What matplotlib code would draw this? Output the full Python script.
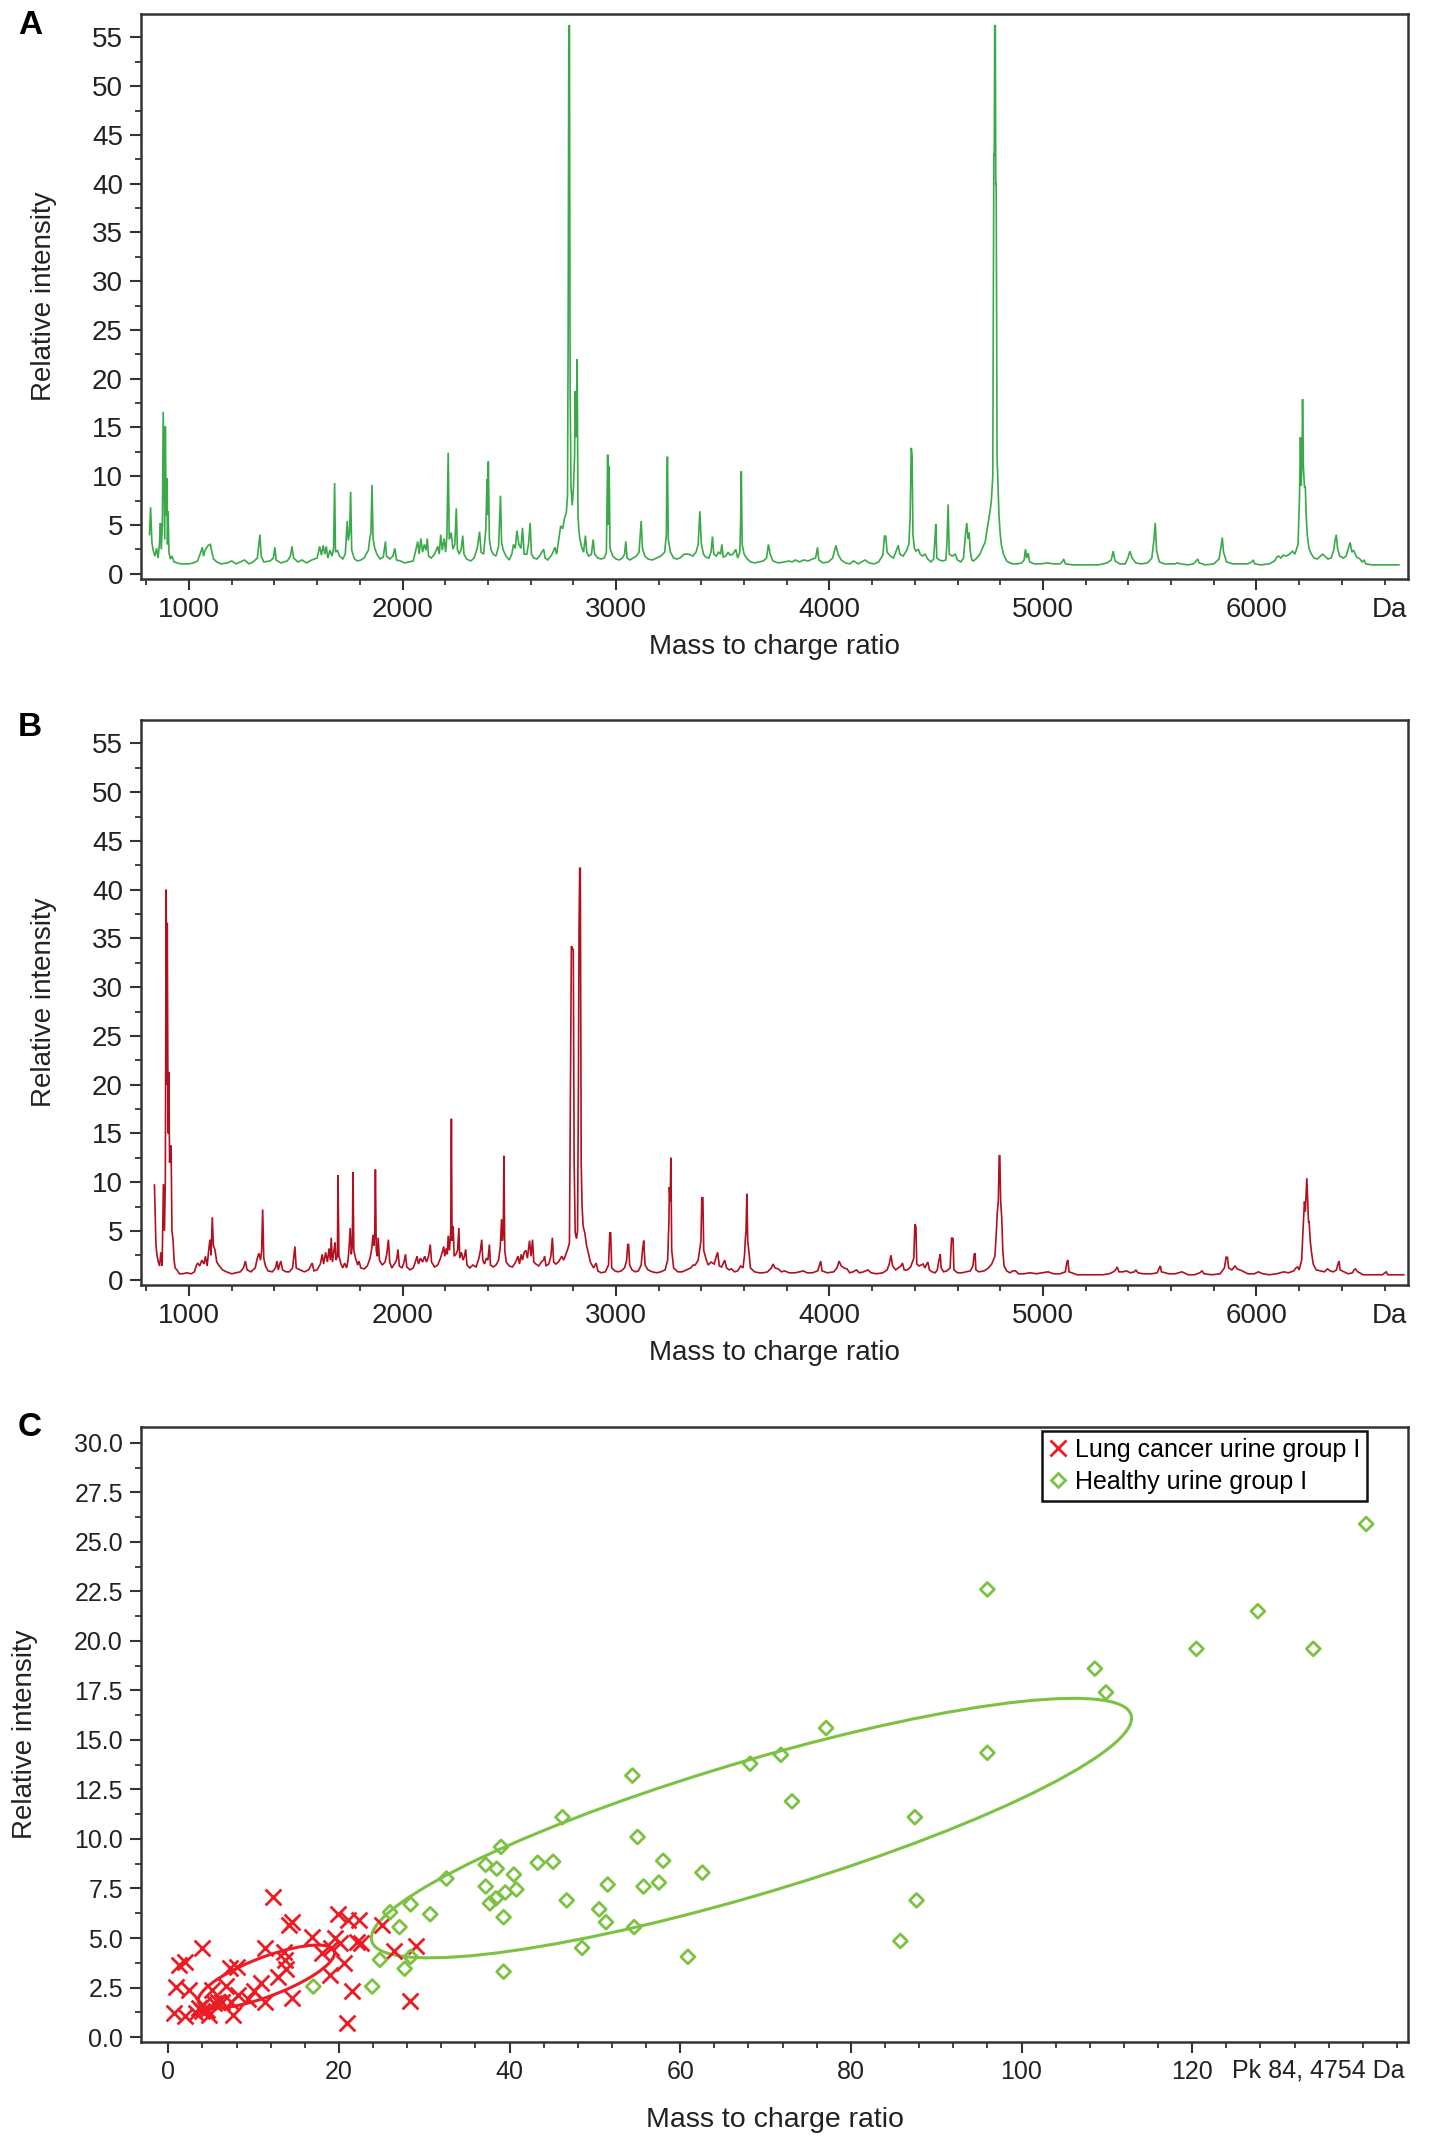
import numpy as np
import matplotlib
matplotlib.use("Agg")
import matplotlib.pyplot as plt
from matplotlib.ticker import MultipleLocator, FixedLocator, FormatStrFormatter
from matplotlib.transforms import Affine2D
from matplotlib.patches import Circle
from matplotlib.lines import Line2D

plt.rcParams['font.family'] = ['Liberation Sans', 'DejaVu Sans']

### 데이터 : 스펙트럼 (m/z, 상대 강도) ###

# A : 건강 소변 (green)
spec_a = [
    (815, 4.0), (820, 6.8), (826, 3.2), (832, 2.4), (840, 1.8), (848, 2.6), (855, 1.6), (862, 3.2),
    (866, 5.2), (870, 2.5), (875, 5.0), (879, 16.6), (883, 9.0), (886, 3.5), (889, 15.1), (893, 6.0),
    (896, 9.8), (899, 3.0), (902, 6.4), (906, 2.2), (912, 1.5), (920, 1.8), (930, 1.2), (945, 1.1),
    (960, 1.0), (980, 1.0), (1000, 1.0), (1020, 1.1), (1040, 1.3), (1055, 2.2), (1062, 2.7), (1068, 1.8),
    (1075, 2.4), (1090, 2.9), (1100, 3.0), (1107, 2.2), (1115, 1.5), (1130, 1.2), (1150, 1.0), (1180, 1.1),
    (1200, 1.3), (1220, 1.0), (1240, 1.2), (1260, 1.4), (1280, 1.0), (1300, 1.2), (1320, 1.6), (1332, 4.0),
    (1338, 1.8), (1350, 1.2), (1380, 1.3), (1395, 1.6), (1402, 2.7), (1408, 1.4), (1430, 1.1), (1460, 1.3),
    (1475, 1.8), (1482, 2.8), (1490, 1.6), (1510, 1.2), (1530, 1.4), (1550, 1.1), (1575, 1.4), (1600, 1.6),
    (1612, 2.8), (1620, 1.9), (1628, 2.9), (1636, 2.0), (1643, 2.8), (1650, 1.6), (1660, 2.4), (1670, 1.8),
    (1677, 2.6), (1682, 9.3), (1686, 2.2), (1695, 2.4), (1705, 1.8), (1720, 1.5), (1732, 2.0), (1741, 5.4),
    (1746, 3.4), (1752, 4.2), (1757, 8.4), (1762, 2.4), (1775, 1.5), (1790, 1.3), (1805, 1.4), (1820, 1.6),
    (1840, 2.4), (1848, 3.8), (1852, 4.1), (1857, 9.1), (1862, 3.6), (1870, 2.6), (1880, 2.0), (1895, 1.5),
    (1910, 1.7), (1920, 3.3), (1925, 1.8), (1940, 1.5), (1955, 1.8), (1964, 2.6), (1972, 1.4), (1990, 1.3),
    (2010, 1.1), (2030, 1.2), (2050, 1.3), (2060, 2.2), (2071, 3.3), (2078, 2.0), (2086, 3.6), (2094, 2.2),
    (2102, 3.0), (2110, 2.4), (2116, 3.6), (2122, 1.8), (2135, 1.6), (2150, 2.0), (2165, 2.8), (2172, 2.0),
    (2179, 4.0), (2186, 2.4), (2195, 3.6), (2202, 2.2), (2208, 3.9), (2214, 12.4), (2219, 3.5), (2228, 4.2),
    (2236, 2.5), (2245, 3.0), (2252, 6.7), (2257, 2.5), (2265, 2.0), (2275, 2.5), (2282, 3.9), (2288, 2.0),
    (2300, 1.5), (2320, 1.3), (2335, 1.6), (2350, 2.6), (2361, 4.3), (2368, 2.2), (2380, 2.0), (2390, 4.5),
    (2396, 9.7), (2399, 6.0), (2402, 11.5), (2407, 3.5), (2415, 2.4), (2425, 2.0), (2438, 1.8), (2450, 2.8),
    (2459, 8.0), (2464, 3.2), (2472, 2.4), (2485, 1.8), (2500, 1.4), (2512, 2.0), (2520, 3.0), (2528, 2.6),
    (2536, 4.4), (2545, 3.0), (2555, 2.6), (2562, 4.7), (2570, 2.0), (2582, 2.0), (2590, 3.0), (2598, 5.2),
    (2604, 2.0), (2615, 1.6), (2630, 1.5), (2645, 1.9), (2655, 2.3), (2661, 2.5), (2668, 1.6), (2680, 1.4),
    (2695, 1.8), (2705, 2.2), (2714, 2.7), (2722, 2.0), (2730, 3.2), (2741, 4.9), (2750, 4.6), (2759, 5.7),
    (2767, 6.2), (2773, 8.0), (2776, 25.0), (2779, 56.2), (2782, 56.2), (2785, 20.0), (2789, 9.0), (2795, 7.0),
    (2800, 8.5), (2806, 12.0), (2809, 18.7), (2813, 14.0), (2818, 22.0), (2822, 6.0), (2826, 4.5), (2830, 3.7),
    (2838, 2.8), (2848, 2.2), (2857, 3.9), (2863, 2.2), (2872, 1.8), (2885, 2.0), (2893, 3.5), (2900, 2.0),
    (2915, 1.6), (2930, 1.5), (2945, 1.6), (2955, 2.2), (2961, 12.2), (2964, 5.0), (2968, 11.0), (2972, 2.6),
    (2985, 1.8), (3000, 1.5), (3015, 1.4), (3030, 1.6), (3040, 2.0), (3046, 3.3), (3052, 1.6), (3065, 1.4),
    (3080, 1.6), (3095, 1.8), (3108, 2.2), (3118, 5.4), (3124, 2.6), (3135, 1.8), (3150, 1.5), (3170, 1.4),
    (3190, 1.6), (3210, 1.8), (3228, 2.2), (3236, 4.0), (3238, 9.5), (3241, 12.0), (3245, 3.5), (3255, 2.2),
    (3270, 1.6), (3285, 1.5), (3300, 1.6), (3320, 2.0), (3340, 2.0), (3360, 1.8), (3375, 2.2), (3385, 3.0),
    (3393, 6.4), (3400, 3.0), (3410, 2.0), (3420, 1.7), (3435, 1.6), (3445, 2.2), (3452, 3.8), (3458, 2.0),
    (3470, 1.8), (3480, 2.2), (3490, 2.0), (3496, 3.0), (3502, 1.7), (3515, 1.8), (3525, 2.2), (3535, 1.9),
    (3548, 2.0), (3561, 2.5), (3570, 1.6), (3580, 2.2), (3584, 5.4), (3587, 10.5), (3591, 3.0), (3600, 2.0),
    (3615, 1.5), (3630, 1.2), (3650, 1.1), (3670, 1.2), (3690, 1.3), (3705, 1.6), (3714, 3.0), (3722, 2.0),
    (3735, 1.3), (3760, 1.1), (3790, 1.2), (3810, 1.3), (3825, 1.2), (3840, 1.4), (3860, 1.2), (3880, 1.4),
    (3900, 1.3), (3920, 1.5), (3935, 1.6), (3944, 2.7), (3950, 1.4), (3970, 1.1), (3995, 1.2), (4015, 1.6),
    (4030, 2.9), (4040, 2.0), (4055, 1.4), (4075, 1.1), (4095, 1.0), (4113, 1.3), (4135, 1.0), (4150, 1.2),
    (4167, 1.4), (4185, 1.1), (4210, 1.0), (4230, 1.2), (4250, 1.9), (4258, 3.9), (4264, 3.8), (4270, 2.2),
    (4285, 1.8), (4300, 1.6), (4310, 2.2), (4322, 2.9), (4330, 2.0), (4345, 1.8), (4362, 2.4), (4372, 3.0),
    (4378, 6.0), (4383, 12.9), (4387, 12.2), (4391, 4.0), (4398, 2.6), (4405, 2.3), (4416, 2.5), (4425, 2.0),
    (4435, 1.8), (4448, 2.0), (4460, 1.5), (4475, 1.2), (4488, 1.5), (4494, 3.5), (4498, 5.1), (4503, 1.6),
    (4515, 1.4), (4530, 1.3), (4545, 1.4), (4550, 3.0), (4556, 7.1), (4561, 2.0), (4575, 1.8), (4589, 2.0),
    (4600, 1.4), (4615, 1.2), (4628, 1.6), (4636, 3.8), (4643, 5.2), (4649, 3.6), (4654, 4.2), (4660, 2.2),
    (4667, 1.4), (4675, 1.3), (4690, 1.6), (4705, 2.0), (4720, 2.8), (4729, 3.2), (4738, 4.5), (4752, 6.4),
    (4758, 7.4), (4765, 10.0), (4770, 43.0), (4772, 43.0), (4774, 56.2), (4777, 56.2), (4779, 40.0), (4781, 40.0),
    (4785, 12.0), (4794, 6.0), (4800, 4.0), (4805, 3.0), (4815, 2.0), (4830, 1.3), (4844, 1.1), (4860, 1.0),
    (4880, 1.0), (4900, 1.1), (4912, 1.4), (4918, 2.5), (4924, 1.6), (4931, 2.1), (4938, 1.2), (4960, 1.0),
    (4990, 1.0), (5020, 1.1), (5050, 1.0), (5080, 1.0), (5090, 1.2), (5097, 1.5), (5105, 1.0), (5140, 0.9),
    (5180, 0.9), (5220, 0.9), (5260, 0.9), (5281, 1.0), (5300, 1.1), (5320, 1.4), (5329, 2.3), (5338, 1.3),
    (5360, 1.0), (5385, 1.0), (5398, 1.6), (5407, 2.3), (5418, 1.6), (5435, 1.1), (5460, 1.0), (5490, 1.1),
    (5510, 1.6), (5520, 3.5), (5526, 5.2), (5532, 2.4), (5545, 1.2), (5570, 1.0), (5600, 1.0), (5620, 1.0),
    (5628, 1.1), (5645, 1.0), (5680, 0.9), (5705, 1.0), (5718, 1.3), (5725, 1.5), (5732, 1.1), (5760, 0.9),
    (5800, 1.0), (5825, 1.5), (5833, 2.6), (5840, 3.7), (5846, 2.2), (5860, 1.2), (5890, 1.0), (5930, 1.0),
    (5960, 1.0), (5978, 1.2), (5985, 1.4), (5992, 1.0), (6020, 0.9), (6060, 1.0), (6085, 1.3), (6096, 1.7),
    (6104, 1.8), (6115, 1.6), (6126, 1.9), (6140, 1.8), (6155, 2.0), (6169, 2.3), (6180, 2.0), (6195, 3.0),
    (6202, 8.0), (6206, 14.0), (6210, 9.0), (6214, 12.0), (6216, 17.9), (6220, 11.0), (6225, 8.9), (6229, 8.9),
    (6233, 6.0), (6238, 4.0), (6246, 2.6), (6255, 2.1), (6270, 1.6), (6285, 1.5), (6300, 1.8), (6310, 2.0),
    (6320, 1.8), (6335, 1.5), (6350, 1.6), (6362, 2.4), (6368, 3.4), (6374, 4.0), (6380, 2.6), (6390, 1.8),
    (6400, 1.7), (6407, 1.6), (6420, 1.8), (6432, 2.7), (6439, 3.2), (6447, 2.2), (6455, 2.4), (6461, 2.1),
    (6470, 1.7), (6485, 1.5), (6495, 1.2), (6504, 1.4), (6512, 1.0), (6540, 0.9), (6580, 0.9), (6620, 0.9),
    (6667, 0.9),
]

# B : 폐암 소변 (dark red)
spec_b = [
    (838, 9.7), (842, 6.0), (845, 3.6), (850, 2.5), (856, 1.8), (862, 1.4), (868, 2.8), (874, 1.4),
    (880, 9.8), (885, 5.0), (889, 10.3), (891, 25.0), (893, 40.0), (896, 20.0), (898, 36.6), (902, 15.0),
    (905, 21.3), (909, 12.0), (912, 13.7), (916, 13.7), (920, 5.0), (925, 4.1), (930, 2.0), (935, 1.2),
    (943, 1.0), (955, 0.6), (970, 0.6), (990, 0.7), (1010, 0.6), (1025, 0.8), (1035, 1.5), (1041, 1.7),
    (1050, 1.4), (1060, 2.0), (1070, 1.6), (1077, 2.4), (1085, 1.4), (1092, 3.0), (1098, 4.1), (1103, 2.5),
    (1109, 6.4), (1114, 3.5), (1121, 3.1), (1130, 1.8), (1142, 1.4), (1157, 1.0), (1175, 0.8), (1200, 0.6),
    (1220, 0.7), (1240, 0.8), (1255, 1.2), (1264, 1.9), (1272, 1.0), (1290, 0.8), (1310, 1.2), (1320, 2.2),
    (1327, 2.7), (1335, 2.0), (1340, 3.0), (1345, 7.2), (1350, 2.2), (1358, 1.4), (1370, 0.9), (1390, 0.8),
    (1405, 1.2), (1412, 1.9), (1418, 1.0), (1425, 1.6), (1430, 1.9), (1438, 1.0), (1455, 0.8), (1470, 0.8),
    (1485, 1.2), (1496, 3.4), (1502, 1.2), (1520, 1.0), (1540, 0.8), (1560, 1.0), (1577, 1.7), (1585, 0.9),
    (1600, 1.0), (1615, 1.6), (1624, 2.6), (1630, 1.6), (1640, 2.8), (1648, 1.8), (1656, 3.2), (1662, 2.0),
    (1666, 4.3), (1672, 1.8), (1680, 3.2), (1684, 3.8), (1688, 2.0), (1695, 2.4), (1698, 10.7), (1702, 2.4),
    (1712, 1.6), (1720, 1.2), (1729, 1.7), (1738, 1.2), (1745, 2.0), (1750, 3.4), (1755, 5.3), (1760, 2.6),
    (1765, 3.5), (1768, 11.0), (1772, 3.0), (1780, 2.2), (1790, 1.5), (1796, 1.9), (1805, 1.2), (1820, 1.1),
    (1835, 1.4), (1848, 2.2), (1856, 3.2), (1862, 4.6), (1866, 3.5), (1870, 4.8), (1873, 11.3), (1877, 3.0),
    (1882, 2.4), (1886, 4.3), (1892, 2.0), (1905, 1.5), (1918, 1.8), (1926, 2.6), (1934, 4.1), (1940, 1.8),
    (1950, 1.2), (1962, 1.6), (1972, 2.0), (1979, 3.1), (1985, 1.4), (1998, 1.2), (2007, 1.8), (2014, 2.6),
    (2020, 1.3), (2035, 1.0), (2050, 1.2), (2060, 1.8), (2068, 2.4), (2075, 1.6), (2084, 2.2), (2094, 1.8),
    (2104, 2.4), (2112, 1.8), (2122, 2.4), (2130, 3.6), (2136, 1.8), (2150, 1.3), (2165, 1.5), (2178, 2.2),
    (2186, 2.8), (2193, 3.4), (2198, 2.4), (2205, 3.2), (2210, 2.6), (2214, 4.5), (2220, 3.0), (2226, 5.0),
    (2229, 16.5), (2232, 4.0), (2237, 5.5), (2242, 2.4), (2250, 2.6), (2258, 3.0), (2264, 5.3), (2268, 2.2),
    (2276, 2.8), (2284, 2.0), (2290, 2.4), (2296, 3.1), (2302, 1.5), (2315, 1.2), (2330, 1.5), (2345, 1.3),
    (2358, 2.2), (2365, 3.0), (2371, 4.1), (2376, 2.0), (2384, 1.6), (2393, 2.2), (2400, 2.0), (2407, 3.6),
    (2412, 1.5), (2425, 1.3), (2438, 1.5), (2450, 2.0), (2458, 3.4), (2464, 6.2), (2468, 4.0), (2472, 5.0),
    (2475, 12.7), (2479, 3.0), (2486, 1.8), (2500, 1.4), (2515, 1.3), (2530, 1.8), (2541, 2.4), (2548, 1.6),
    (2556, 2.6), (2562, 2.0), (2570, 2.8), (2578, 3.0), (2585, 2.2), (2595, 4.0), (2602, 2.4), (2609, 4.1),
    (2615, 1.8), (2625, 1.6), (2638, 1.4), (2650, 1.8), (2660, 2.0), (2666, 2.4), (2672, 1.4), (2685, 1.6),
    (2695, 2.4), (2702, 4.3), (2708, 1.8), (2718, 1.6), (2730, 1.8), (2746, 2.4), (2755, 2.0), (2765, 2.6),
    (2775, 3.2), (2782, 3.8), (2787, 20.0), (2791, 34.2), (2796, 34.0), (2800, 33.8), (2804, 12.0), (2809, 4.8),
    (2815, 4.2), (2820, 5.0), (2824, 20.0), (2827, 36.3), (2830, 42.2), (2833, 42.2), (2837, 12.0), (2841, 7.6),
    (2846, 5.5), (2854, 4.8), (2862, 3.5), (2871, 2.7), (2880, 1.8), (2895, 1.2), (2907, 1.7), (2915, 0.9),
    (2930, 0.7), (2950, 0.8), (2965, 1.5), (2971, 4.8), (2975, 4.8), (2980, 1.2), (2995, 0.9), (3010, 0.8),
    (3025, 0.9), (3040, 1.2), (3050, 2.0), (3055, 3.6), (3059, 3.6), (3064, 1.5), (3075, 1.0), (3090, 0.8),
    (3105, 0.9), (3118, 1.5), (3125, 3.2), (3130, 4.0), (3136, 1.5), (3150, 1.0), (3170, 0.8), (3190, 0.7),
    (3210, 0.8), (3230, 1.0), (3242, 2.0), (3248, 6.0), (3250, 9.5), (3254, 8.0), (3257, 12.5), (3261, 3.0),
    (3270, 1.2), (3290, 0.8), (3310, 0.8), (3330, 1.0), (3350, 1.2), (3362, 1.5), (3371, 1.5), (3385, 2.0),
    (3398, 4.0), (3402, 8.4), (3407, 8.4), (3411, 3.0), (3418, 2.4), (3422, 2.1), (3432, 1.5), (3445, 1.8),
    (3460, 1.6), (3470, 2.4), (3476, 2.8), (3484, 1.4), (3495, 1.3), (3509, 2.0), (3518, 1.2), (3530, 1.0),
    (3541, 1.1), (3555, 0.8), (3570, 0.9), (3584, 1.4), (3595, 1.2), (3602, 2.5), (3606, 4.2), (3609, 5.0),
    (3613, 8.8), (3617, 4.0), (3621, 3.2), (3630, 1.2), (3649, 0.8), (3670, 0.7), (3690, 0.7), (3710, 0.8),
    (3728, 1.2), (3736, 1.6), (3745, 1.2), (3760, 1.1), (3775, 0.8), (3790, 0.9), (3810, 0.7), (3840, 0.7),
    (3860, 0.8), (3877, 0.9), (3895, 0.7), (3920, 0.7), (3945, 0.9), (3953, 1.5), (3959, 1.9), (3965, 0.9),
    (3990, 0.7), (4020, 0.8), (4035, 1.2), (4045, 1.9), (4055, 1.4), (4068, 1.2), (4082, 1.1), (4095, 0.7),
    (4110, 0.8), (4126, 1.0), (4140, 0.7), (4160, 0.8), (4180, 1.0), (4195, 0.7), (4220, 0.6), (4250, 0.7),
    (4270, 1.0), (4280, 1.6), (4288, 2.5), (4296, 1.4), (4310, 1.0), (4322, 1.2), (4335, 1.4), (4342, 1.7),
    (4350, 1.0), (4365, 1.0), (4380, 1.3), (4395, 2.2), (4400, 5.7), (4405, 5.4), (4409, 1.6), (4420, 1.4),
    (4430, 1.5), (4439, 1.6), (4447, 1.2), (4453, 1.5), (4461, 1.8), (4468, 1.0), (4480, 0.8), (4495, 0.7),
    (4505, 1.0), (4513, 2.0), (4519, 2.6), (4523, 1.2), (4535, 0.8), (4550, 0.9), (4565, 1.2), (4572, 4.3),
    (4579, 4.2), (4583, 1.0), (4600, 0.7), (4620, 0.7), (4640, 0.8), (4660, 0.9), (4672, 1.4), (4678, 2.6),
    (4682, 2.7), (4686, 1.0), (4700, 0.8), (4725, 0.9), (4745, 1.2), (4760, 1.6), (4775, 2.4), (4782, 5.0),
    (4786, 6.9), (4791, 8.0), (4795, 12.7), (4798, 12.7), (4802, 8.0), (4807, 6.3), (4812, 3.0), (4818, 1.4),
    (4830, 0.9), (4845, 0.7), (4860, 0.9), (4872, 0.9), (4885, 0.6), (4910, 0.6), (4940, 0.7), (4970, 0.6),
    (4995, 0.7), (5024, 0.8), (5050, 0.6), (5080, 0.6), (5105, 0.8), (5112, 1.8), (5117, 2.0), (5122, 0.8),
    (5160, 0.5), (5200, 0.5), (5240, 0.5), (5280, 0.5), (5310, 0.6), (5330, 0.8), (5340, 1.0), (5348, 1.3),
    (5356, 0.8), (5375, 0.8), (5390, 0.9), (5410, 0.7), (5428, 0.8), (5435, 1.0), (5445, 0.7), (5470, 0.6),
    (5510, 0.6), (5535, 0.7), (5545, 1.2), (5550, 1.4), (5555, 0.8), (5590, 0.6), (5620, 0.6), (5651, 0.8),
    (5680, 0.5), (5710, 0.5), (5735, 0.7), (5745, 0.9), (5755, 0.6), (5790, 0.5), (5830, 0.6), (5850, 1.2),
    (5858, 2.3), (5864, 2.3), (5870, 1.2), (5885, 1.0), (5900, 1.4), (5910, 1.1), (5933, 0.9), (5960, 0.6),
    (5990, 0.6), (6009, 0.8), (6030, 0.6), (6060, 0.5), (6095, 0.6), (6128, 0.8), (6150, 0.7), (6175, 0.9),
    (6185, 1.2), (6193, 1.3), (6200, 1.0), (6212, 2.0), (6218, 5.0), (6225, 8.0), (6229, 7.0), (6233, 9.0),
    (6236, 10.4), (6240, 8.0), (6244, 5.9), (6247, 5.9), (6252, 4.0), (6258, 2.8), (6266, 1.6), (6280, 1.0),
    (6300, 0.9), (6318, 0.8), (6333, 1.1), (6345, 0.9), (6360, 0.8), (6375, 1.0), (6382, 1.6), (6387, 1.9),
    (6392, 1.0), (6410, 0.8), (6430, 0.6), (6450, 0.7), (6457, 1.0), (6463, 1.1), (6475, 0.8), (6500, 0.5),
    (6550, 0.5), (6590, 0.5), (6608, 0.8), (6615, 0.5), (6650, 0.5), (6690, 0.5),
]

# C : Pk 84 산점도
lung_x = [12.3, 14.1, 14.5, 19.9, 21.1, 22.4, 25.0, 16.9, 19.5, 20.1, 22.1, 22.6, 4.0, 11.3, 13.6,
          1.3, 1.9, 7.2, 8.0, 13.7, 18.0, 19.1, 20.6, 18.9, 12.9, 26.5, 29.0, 0.9, 2.4, 5.1,
          10.9, 10.1, 8.2, 7.4, 6.3, 11.3, 14.5, 21.5, 0.7, 1.9, 3.6, 4.0, 4.5, 4.1, 3.3,
          4.8, 5.4, 7.6, 28.3, 20.9, 6.8, 9.3, 13.8, 5.8]
lung_y = [7.09, 5.66, 5.80, 6.20, 5.90, 5.90, 5.66, 5.07, 5.00, 4.75, 4.82, 4.73, 4.48, 4.48, 4.31,
          3.64, 3.78, 3.47, 3.56, 3.90, 4.23, 4.48, 3.73, 3.14, 3.05, 4.35, 4.62, 2.55, 2.38, 2.38,
          2.72, 2.30, 2.13, 1.79, 1.79, 1.79, 1.96, 2.33, 1.20, 1.04, 1.46, 1.29, 1.37, 1.63, 1.20,
          1.10, 1.70, 1.12, 1.84, 0.70, 2.60, 1.90, 3.46, 1.77]

healthy_x = [140.4, 96.0, 127.7, 120.5, 134.2, 108.6, 109.9, 77.1, 96.0, 71.8, 68.2, 54.4, 73.1,
             87.5, 46.2, 55.0, 39.0, 58.0, 43.3, 45.1, 37.2, 38.5, 62.6, 40.5, 32.6, 51.5,
             55.7, 57.5, 37.2, 40.8, 39.5, 38.4, 37.7, 46.7, 87.7, 28.4, 26.0, 30.7, 50.5,
             39.3, 51.3, 27.1, 54.6, 85.8, 48.5, 24.8, 28.4, 60.9, 27.7, 39.3, 23.9, 17.0]
healthy_y = [25.9, 22.6, 21.5, 19.6, 19.6, 18.6, 17.4, 15.6, 14.35, 14.25, 13.8, 13.2, 11.9,
             11.1, 11.1, 10.1, 9.6, 8.9, 8.8, 8.85, 8.7, 8.5, 8.3, 8.2, 8.0, 7.7,
             7.6, 7.8, 7.6, 7.45, 7.3, 7.0, 6.75, 6.9, 6.9, 6.7, 6.3, 6.2, 6.45,
             6.05, 5.8, 5.55, 5.55, 4.85, 4.5, 3.9, 4.05, 4.05, 3.45, 3.3, 2.55, 2.55]

# 신뢰 타원 : 중심 + 두 켤레 반지름 벡터 (데이터 좌표)
lung_ell = dict(center=(11.5, 3.05), u=(8.0, 1.2), v=(0.0, 1.05))
healthy_ell = dict(center=(68.35, 10.55), u=(44.55, 5.55), v=(0.0, 3.48))

green_line = '#3aa94a'
red_line = '#b01020'
red_pt = '#ec1c24'
green_pt = '#7cc242'
frame_c = '#333333'
txt_c = '#222222'

W, H = 1441, 2151
fig = plt.figure(figsize=(W / 100, H / 100), dpi=100)

def px_axes(l, t, r, b):
    return fig.add_axes([l / W, 1 - b / H, (r - l) / W, (b - t) / H])

def style(ax, lw=1.8):
    for s in ax.spines.values():
        s.set_color(frame_c)
        s.set_linewidth(lw)
    ax.tick_params(which='major', direction='out', length=8, width=1.5, color=frame_c)
    ax.tick_params(which='minor', direction='out', length=4.5, width=1.3, color=frame_c)
    ax.tick_params(top=False, right=False)


def spectrum_panel(ax, data, color):
    mz, inten = np.array(data).T
    ax.plot(mz, inten, color=color, lw=1.2, solid_joinstyle='miter')
    ax.set_xlim(775, 6710)
    ax.set_ylim(-0.55, 57.4)
    ax.xaxis.set_major_locator(FixedLocator([1000, 2000, 3000, 4000, 5000, 6000]))
    ax.xaxis.set_minor_locator(FixedLocator(np.arange(800, 6700, 200)))
    ax.yaxis.set_major_locator(MultipleLocator(5))
    ax.yaxis.set_minor_locator(MultipleLocator(2.5))
    style(ax)
    ax.tick_params(labelsize=20, labelcolor=txt_c, pad=5)
    ax.set_xlabel('Mass to charge ratio', fontsize=20, color=txt_c)
    ax.set_ylabel('Relative intensity', fontsize=20, color=txt_c)
    ax.xaxis.set_label_coords(0.5, -0.098)
    ax.yaxis.set_label_coords(-0.066, 0.5)
    ax.annotate('Da', xy=(6625, 0), xycoords=('data', 'axes fraction'),
                xytext=(0, -13), textcoords='offset points', ha='center', va='top',
                fontsize=20, color=txt_c, annotation_clip=False)


ax_a = px_axes(141, 14, 1408, 579)
spectrum_panel(ax_a, spec_a, green_line)

ax_b = px_axes(141, 720, 1408, 1285)
spectrum_panel(ax_b, spec_b, red_line)

## 산점도 (C)
ax_c = px_axes(141, 1427, 1408, 2042)
ax_c.scatter(lung_x, lung_y, marker='x', s=130, color=red_pt, linewidths=2.0, zorder=3)
ax_c.scatter(healthy_x, healthy_y, marker='D', s=50, facecolors='none',
             edgecolors=green_pt, linewidths=2.0, zorder=3)

for ell, col in [(lung_ell, red_pt), (healthy_ell, green_pt)]:
    cx, cy = ell['center']
    (ux, uy), (vx, vy) = ell['u'], ell['v']
    mtx = Affine2D(np.array([[ux, vx, cx], [uy, vy, cy], [0, 0, 1]]))
    ax_c.add_patch(Circle((0, 0), 1, fill=False, edgecolor=col, lw=2.2,
                          transform=mtx + ax_c.transData, zorder=2))

ax_c.set_xlim(-3.2, 145.3)
ax_c.set_ylim(-0.25, 30.8)
ax_c.xaxis.set_major_locator(FixedLocator([0, 20, 40, 60, 80, 100, 120]))
ax_c.xaxis.set_minor_locator(FixedLocator(np.arange(4, 145, 4)))
ax_c.yaxis.set_major_locator(MultipleLocator(2.5))
ax_c.yaxis.set_minor_locator(MultipleLocator(1.25))
ax_c.yaxis.set_major_formatter(FormatStrFormatter('%.1f'))
style(ax_c)
ax_c.tick_params(labelsize=18, labelcolor=txt_c, pad=5)
ax_c.set_xlabel('Mass to charge ratio', fontsize=20.5, color=txt_c)
ax_c.set_ylabel('Relative intensity', fontsize=20, color=txt_c)
ax_c.xaxis.set_label_coords(0.5, -0.105)
ax_c.yaxis.set_label_coords(-0.081, 0.5)
ax_c.annotate('Pk 84, 4754 Da', xy=(134.8, 0), xycoords=('data', 'axes fraction'),
              xytext=(0, -12), textcoords='offset points', ha='center', va='top',
              fontsize=18, color=txt_c, annotation_clip=False)

handles = [Line2D([], [], marker='x', ls='none', color=red_pt, markersize=11, markeredgewidth=2),
           Line2D([], [], marker='D', ls='none', markerfacecolor='none', markeredgecolor=green_pt,
                  markersize=7, markeredgewidth=2)]
leg = ax_c.legend(handles, ['Lung cancer urine group I', 'Healthy urine group I'],
                  loc='upper right', bbox_to_anchor=(0.968, 0.994), borderaxespad=0,
                  fancybox=False, framealpha=1, edgecolor='#111111',
                  prop={'size': 18}, handlelength=0.7, handletextpad=0.3,
                  borderpad=0.3, labelspacing=0.3)
leg.get_frame().set_linewidth(1.8)

for letter, ypx in [('A', 25), ('B', 727), ('C', 1427)]:
    fig.text(30 / W, 1 - ypx / H, letter, fontsize=24, fontweight='bold', ha='center', va='center')

fig.savefig('out.png', dpi=100)
